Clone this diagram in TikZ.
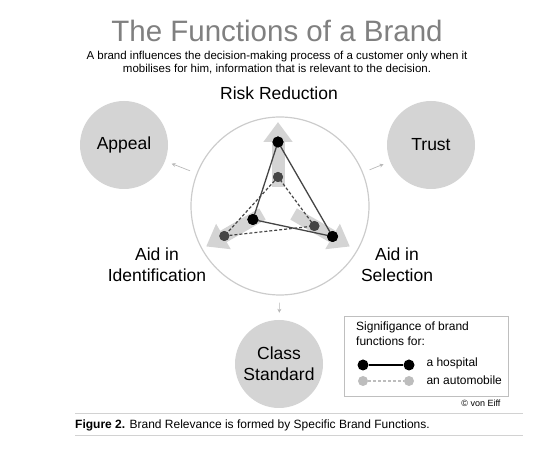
\documentclass[tikz,border=0pt]{standalone}
\usepackage{fontspec}
\setmainfont{Liberation Sans}
\usetikzlibrary{arrows.meta}
\definecolor{disc}{gray}{0.83}
\definecolor{rim}{gray}{0.80}
\definecolor{titlegray}{gray}{0.50}
\definecolor{inkgray}{gray}{0.27}
\definecolor{legendgray}{gray}{0.74}
\tikzset{
  func/.style={circle, fill=disc, minimum size=88pt, inner sep=0pt, align=center,
    font=\fontsize{17.5}{21}\selectfont},
  fnlabel/.style={align=center, font=\fontsize{17.5}{21}\selectfont}
}

\begin{document}
\begin{tikzpicture}[x=1pt, y=-1pt,
  hosp/.style={circle, fill=black, inner sep=0pt, minimum size=11pt},
  car/.style={circle, fill=inkgray, inner sep=0pt, minimum size=10pt},
  bigarrow/.style={draw=disc, line width=13pt, -{Triangle[length=20pt,width=28pt]}},
  link/.style={draw=gray!55, line width=0.7pt, -{Stealth[length=4pt,width=4pt]},
    shorten <=7pt, shorten >=7pt}
]
\useasboundingbox (0,0) rectangle (542,454);
% heading
\node[anchor=base, text=titlegray, font=\fontsize{29.5}{32}\selectfont] (title) at (277,42) {The Functions of a Brand};
\node[anchor=base, font=\fontsize{11.5}{13}\selectfont] (sub1) at (277,60) {A brand influences the decision-making process of a customer only when it};
\node[anchor=base, font=\fontsize{11.5}{13}\selectfont] (sub2) at (277,73) {mobilises for him, information that is relevant to the decision.};
% main circle and functions
\node[circle, draw=rim, line width=1.2pt, minimum size=178pt] (main) at (280,206) {};
\node[func] (appeal) at (124,145) {Appeal};
\node[func] (trust) at (431,145) {Trust};
\node[func] (class) at (279,364) {Class\\Standard};
\draw[link] (main) -- (appeal);
\draw[link] (main) -- (trust);
\draw[link] (main) -- (class);
\node[fnlabel, anchor=base] (risk) at (279,100) {Risk Reduction};
\node[fnlabel] (ident) at (157,265) {Aid in\\Identification};
\node[fnlabel] (select) at (397,265) {Aid in\\Selection};
% axes
\coordinate (o) at (278,205);
\foreach \a in {-90,150,30}
  \draw[bigarrow] ([shift={(\a:18)}]o) -- ([shift={(\a:83)}]o);
% automobile
\node[car] (c1) at ([shift={(-90:28)}]o) {};
\node[car] (c2) at ([shift={(150:62)}]o) {};
\node[car] (c3) at ([shift={(30:42)}]o) {};
\draw[inkgray, line width=1.2pt, dash pattern=on 3pt off 2pt] (c1.center) -- (c2.center) -- (c3.center) -- cycle;
% hospital
\node[hosp] (h1) at ([shift={(-90:63)}]o) {};
\node[hosp] (h2) at ([shift={(150:29)}]o) {};
\node[hosp] (h3) at ([shift={(30:63)}]o) {};
\draw[inkgray, line width=1.3pt] (h1.center) -- (h2.center) -- (h3.center) -- cycle;
\foreach \n in {c1,c2,c3} \fill[inkgray] (\n) circle (5pt);
\foreach \n in {h1,h2,h3} \fill[black] (\n) circle (5.5pt);
% legend
\draw[gray!50, line width=1pt] (344,317) rectangle (508,397);
\node[anchor=north west, align=left, inner sep=0pt, font=\fontsize{12}{15}\selectfont] (legtitle) at (356,322) {Signifigance of brand\\functions for:};
\node[hosp] (lh1) at (363,365) {};
\node[hosp] (lh2) at (409,365) {};
\draw[black, line width=1.3pt] (lh1) -- (lh2);
\node[anchor=west, font=\fontsize{12}{15}\selectfont] at (423,363) {a hospital};
\node[car, fill=legendgray] (lc1) at (363,381) {};
\node[car, fill=legendgray] (lc2) at (409,381) {};
\draw[legendgray, line width=1.2pt, dash pattern=on 3pt off 2pt] (lc1) -- (lc2);
\node[anchor=west, font=\fontsize{12}{15}\selectfont] at (423,380) {an automobile};
\node[anchor=base east, font=\fontsize{9}{10}\selectfont] (credit) at (504,407) {\textcopyright\ von Eiff};
% caption
\draw[gray!35, line width=0.8pt] (75,413) -- (523,413);
\draw[gray!35, line width=0.8pt] (75,435) -- (523,435);
\node[anchor=base west, inner sep=0pt, font=\fontsize{12}{14}\selectfont] (caption) at (75,429) {\textbf{Figure 2.} Brand Relevance is formed by Specific Brand Functions.};
\end{tikzpicture}
\end{document}
